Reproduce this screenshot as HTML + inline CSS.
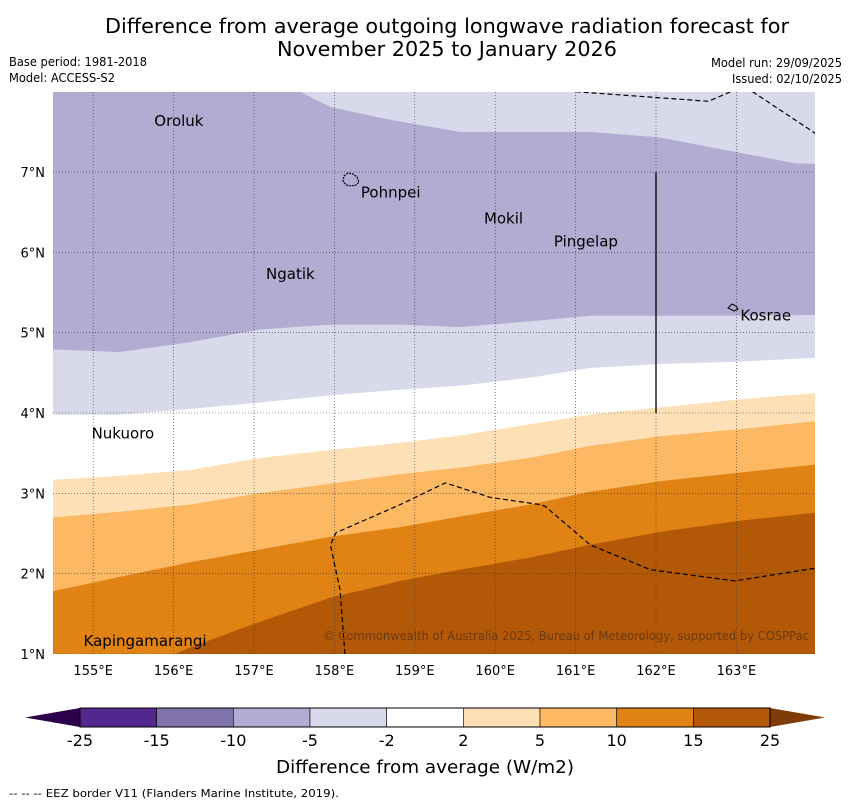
<!DOCTYPE html>
<html><head><meta charset="utf-8"><style>
html,body{margin:0;padding:0;background:#fff;}
svg{display:block;font-family:"DejaVu Sans","Liberation Sans",sans-serif;}
</style></head><body>
<svg id="chart" width="850" height="804" viewBox="0 0 850 804">
<text x="447" y="33" font-size="20" text-anchor="middle" textLength="684" lengthAdjust="spacingAndGlyphs">Difference from average outgoing longwave radiation forecast for</text>
<text x="447" y="56" font-size="20" text-anchor="middle" textLength="340" lengthAdjust="spacingAndGlyphs">November 2025 to January 2026</text>
<text x="9" y="66" font-size="12" textLength="138" lengthAdjust="spacingAndGlyphs">Base period: 1981-2018</text>
<text x="9" y="82" font-size="12" textLength="106" lengthAdjust="spacingAndGlyphs">Model: ACCESS-S2</text>
<text x="842" y="67" font-size="12" text-anchor="end" textLength="131" lengthAdjust="spacingAndGlyphs">Model run: 29/09/2025</text>
<text x="842" y="83" font-size="12" text-anchor="end" textLength="110" lengthAdjust="spacingAndGlyphs">Issued: 02/10/2025</text>
<defs><clipPath id="mapclip"><rect x="53" y="92" width="762" height="562"/></clipPath></defs>
<g id="map" clip-path="url(#mapclip)">
<rect x="53" y="92" width="762" height="562" fill="#d8daeb"/>
</g>
<g id="axes"></g>
<g id="cbar"></g>
<text x="425" y="773" font-size="18" text-anchor="middle" textLength="298" lengthAdjust="spacingAndGlyphs">Difference from average (W/m2)</text>
<text x="9" y="797" font-size="11" textLength="330" lengthAdjust="spacingAndGlyphs">--  --  -- EEZ border V11 (Flanders Marine Institute, 2019).</text>
</svg>
<script>
const lons = [154.5,155.33,156.2,157.07,157.95,158.82,159.56,160.43,161.18,162.05,163.05,164.0];
const latA_lons = [154.5,157.57,157.95,158.69,159.56,161.18,162.05,162.98,163.73,164.0];
const latA = [8.1,8.0,7.81,7.65,7.50,7.50,7.43,7.25,7.11,7.10];
const latB = [4.79,4.76,4.88,5.04,5.10,5.10,5.07,5.14,5.21,5.21,5.21,5.22];
const latC = [3.98,3.98,4.05,4.13,4.22,4.29,4.34,4.44,4.56,4.61,4.64,4.69];
const latD = [3.17,3.22,3.29,3.44,3.54,3.63,3.72,3.86,3.98,4.07,4.17,4.25];
const latE = [2.70,2.77,2.86,3.00,3.12,3.24,3.32,3.44,3.59,3.71,3.80,3.90];
const latF = [1.78,1.96,2.14,2.30,2.46,2.58,2.71,2.86,3.02,3.15,3.26,3.36];
const latG = [0.5,0.7,1.08,1.40,1.70,1.91,2.05,2.20,2.36,2.52,2.66,2.76];
const levels = ["-25","-15","-10","-5","-2","2","5","10","15","25"];
const colors = ["#54278f","#8073ac","#b2abd2","#d8daeb","#ffffff","#fee0b6","#fdb863","#e08214","#b35806"];
const lonTicks = [155,156,157,158,159,160,161,162,163];
const latTicks = [1,2,3,4,5,6,7];
const islands = ["Oroluk","Pohnpei","Mokil","Pingelap","Ngatik","Kosrae","Nukuoro","Kapingamarangi"];
const islandLon = [155.76,158.33,159.86,160.73,157.15,163.05,154.98,154.88];
const islandLat = [7.57,6.68,6.36,6.07,5.67,5.15,3.68,1.10];
const eezA_lon = [161.0,162.65,163.0];
const eezA_lat = [8.0,7.88,8.03];
const eezB_lon = [163.2,164.0];
const eezB_lat = [8.0,7.47];
const eezC_lon = [158.13,158.07,157.95,158.02,158.82,159.38,159.94,160.56,160.62,161.18,161.93,162.98,164.0];
const eezC_lat = [1.0,1.8,2.36,2.51,2.86,3.13,2.95,2.86,2.84,2.36,2.05,1.91,2.07];

const X = lon => 53 + (lon - 154.5) * 80.4;
const Y = lat => 654 - (lat - 1) * 80.33;
const NS = "http://www.w3.org/2000/svg";
function mk(tag, attrs, parent){const e=document.createElementNS(NS,tag);for(const k in attrs)e.setAttribute(k,attrs[k]);parent.appendChild(e);return e;}
const map = document.getElementById('map');
function below(lonArr, latArr, fill, name){
  let d = "M" + X(lonArr[0]) + "," + 700;
  for(let i=0;i<lonArr.length;i++) d += "L" + X(lonArr[i]).toFixed(1) + "," + Y(latArr[i]).toFixed(1);
  d += "L" + X(lonArr[lonArr.length-1]) + ",700Z";
  const p = mk('path',{d:d,fill:fill},map);
  
  
}
below(latA_lons, latA, colors[2], 'band-minus10-minus5');
below(lons, latB, colors[3], 'band-minus5-minus2');
below(lons, latC, colors[4], 'band-minus2-2');
below(lons, latD, colors[5], 'band-2-5');
below(lons, latE, colors[6], 'band-5-10');
below(lons, latF, colors[7], 'band-10-15');
below(lons, latG, colors[8], 'band-15-25');
for(const t of lonTicks){
  const l = mk('line',{x1:X(t),x2:X(t),y1:92,y2:654,stroke:"#333","stroke-width":0.6,"stroke-dasharray":"1,2"},map);
  
  
}
for(const t of latTicks){
  const l = mk('line',{x1:53,x2:815,y1:Y(t),y2:Y(t),stroke:"#333","stroke-width":0.6,"stroke-dasharray":"1,2"},map);
  
  
}
function dline(lo, la, name){
  const pts = lo.map((v,i)=>X(v).toFixed(1)+","+Y(la[i]).toFixed(1)).join(" ");
  const p = mk('polyline',{points:pts,fill:"none",stroke:"#000","stroke-width":1.2,"stroke-dasharray":"5,3"},map);
  
  
}
dline(eezA_lon, eezA_lat, 'eez-border-north');
dline(eezB_lon, eezB_lat, 'eez-border-northeast');
dline(eezC_lon, eezC_lat, 'eez-border-south');
const sl = mk('line',{x1:X(162),x2:X(162),y1:Y(7),y2:Y(4),stroke:"#000","stroke-width":1.3},map);


const pi = mk('path',{d:"M344,176 l4,-3 5,1 4,3 2,5 -3,3 -5,1 -5,-1 -3,-4z",fill:"none",stroke:"#000","stroke-width":1.2,"stroke-dasharray":"2,1"},map);


const ki = mk('path',{d:"M728,308 l4,-4 4,2 2,3 -4,2z",fill:"none",stroke:"#000","stroke-width":1},map);


islands.forEach((nm,i)=>{
  const t = mk('text',{x:X(islandLon[i]),y:Y(islandLat[i]),"font-size":15,fill:"#000"},map);
  t.textContent = nm;
  
  
});
const cp = mk('text',{x:809,y:640,"font-size":12,"text-anchor":"end",fill:"#6b3a12",textLength:486,lengthAdjust:"spacingAndGlyphs"},map);
cp.textContent = "© Commonwealth of Australia 2025, Bureau of Meteorology, supported by COSPPac";


const axes = document.getElementById('axes');
for(const t of lonTicks){
  const e = mk('text',{x:X(t),y:675,"font-size":13,"text-anchor":"middle"},axes);
  e.textContent = t + "°E";
  
  
}
for(const t of latTicks){
  const e = mk('text',{x:45,y:Y(t)+5,"font-size":13,"text-anchor":"end"},axes);
  e.textContent = t + "°N";
  
  
}
const cb = document.getElementById('cbar');
const cx0 = 80, cw = (770-80)/9, cy = 708, ch = 19;
const ul = mk('polygon',{points:`25,${cy+ch/2} ${cx0},${cy} ${cx0},${cy+ch}`,fill:"#2d004b"},cb);


const ol = mk('polygon',{points:`825,${cy+ch/2} 770,${cy} 770,${cy+ch}`,fill:"#7f3b08"},cb);


colors.forEach((c,i)=>{
  const r = mk('rect',{x:cx0+i*cw,y:cy,width:cw,height:ch,fill:c,stroke:"#000","stroke-width":0.6},cb);
  
  
});
const bx = mk('rect',{x:cx0,y:cy,width:690,height:ch,fill:"none",stroke:"#000","stroke-width":1},cb);


levels.forEach((lv,i)=>{
  const t = mk('text',{x:cx0+i*cw,y:746,"font-size":16,"text-anchor":"middle"},cb);
  t.textContent = lv;
  
  
});
</script>
</body></html>
